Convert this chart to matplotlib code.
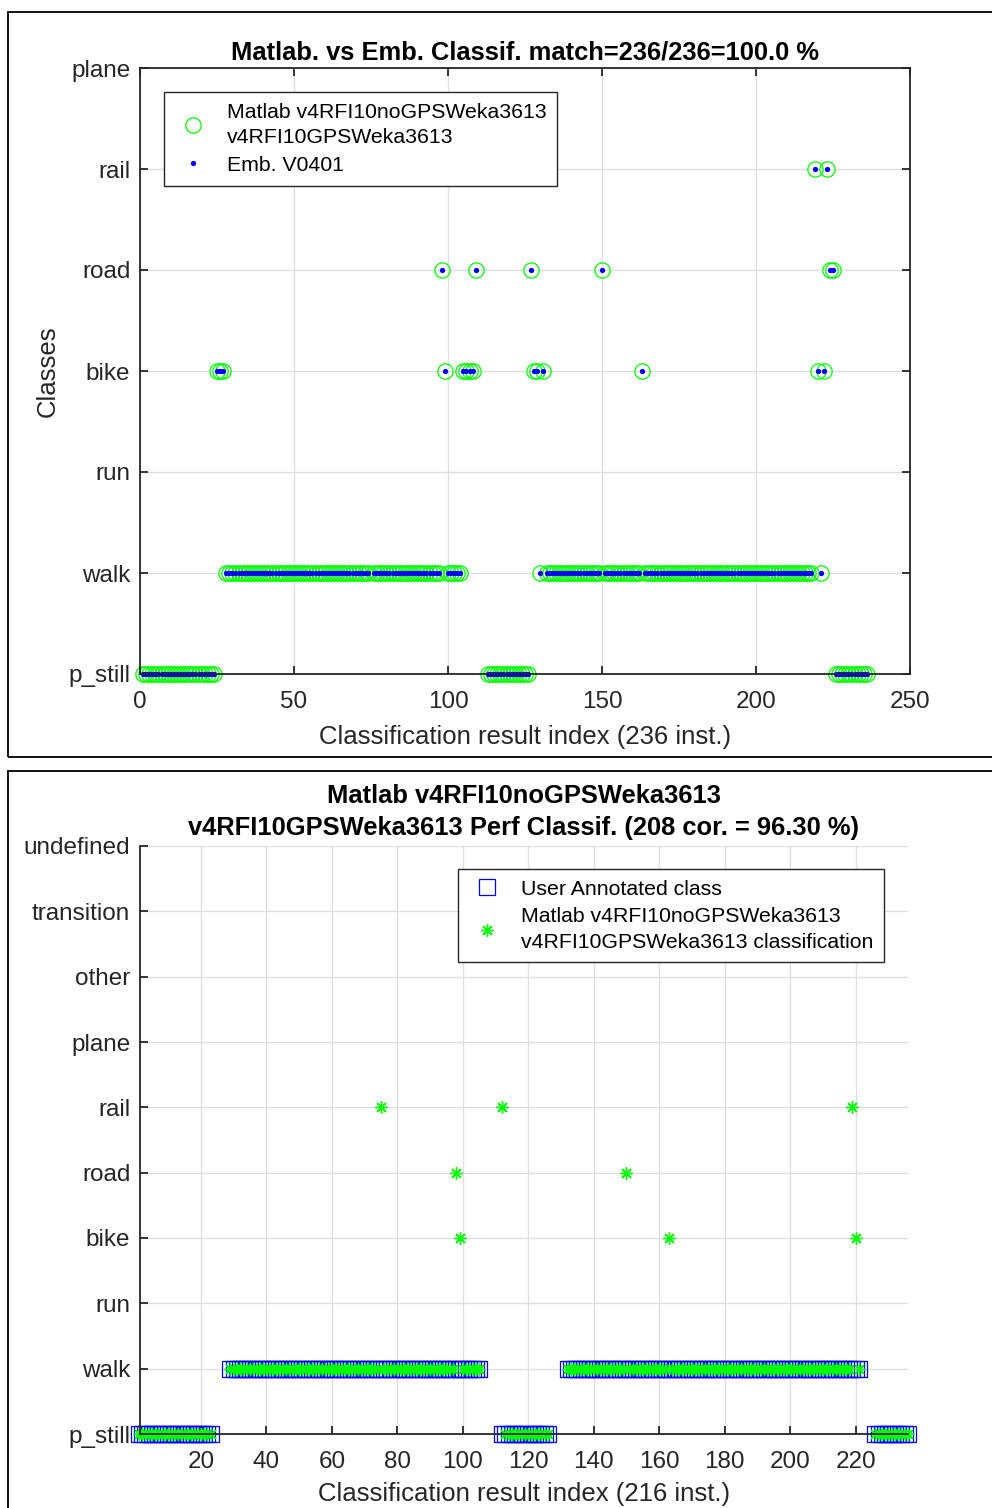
import numpy as np
import matplotlib
matplotlib.use("Agg")
from matplotlib import pyplot as plt
from matplotlib.patches import Rectangle

plt.rcParams['font.family'] = ['Liberation Sans', 'DejaVu Sans']

# class names (y axis)
top_classes = ['p_still', 'walk', 'run', 'bike', 'road', 'rail', 'plane']
bottom_classes = ['p_still', 'walk', 'run', 'bike', 'road', 'rail', 'plane',
                  'other', 'transition', 'undefined']

# top panel: runs of Matlab classification (Emb. is identical, 100 % match)
top_run_start = [1, 25, 28, 76, 98, 99, 100, 105, 109, 113, 127, 128, 130, 131,
                 132, 150, 151, 163, 164, 219, 220, 221, 222, 223, 224, 226]
top_run_end = [24, 27, 74, 97, 98, 99, 104, 108, 109, 126, 127, 129, 130, 131,
               149, 150, 162, 163, 218, 219, 220, 221, 222, 223, 225, 236]
top_run_class = ['p_still', 'bike', 'walk', 'walk', 'road', 'bike', 'walk', 'bike',
                 'road', 'p_still', 'road', 'bike', 'walk', 'bike', 'walk', 'road',
                 'walk', 'bike', 'walk', 'rail', 'bike', 'walk', 'bike', 'rail',
                 'road', 'p_still']

# bottom panel: user annotated runs
user_run_start = [1, 29, 112, 132, 226]
user_run_end = [23, 105, 126, 221, 236]
user_run_class = ['p_still', 'walk', 'p_still', 'walk', 'p_still']

# bottom panel: instances where Matlab classification differs from annotation
err_index = [75, 98, 99, 112, 150, 163, 219, 220]
err_class = ['rail', 'road', 'bike', 'rail', 'road', 'bike', 'rail', 'bike']


def expand(starts, ends, classes, names):
    idx, val = [], []
    for s, e, c in zip(starts, ends, classes):
        for i in range(s, e + 1):
            idx.append(i)
            val.append(names.index(c) + 1)
    return np.array(idx), np.array(val, dtype=float)


top_x, top_y = expand(top_run_start, top_run_end, top_run_class, top_classes)
emb_y = top_y.copy()

user_x, user_y = expand(user_run_start, user_run_end, user_run_class, bottom_classes)
matlab_y = user_y.copy()
for i, c in zip(err_index, err_class):
    matlab_y[user_x == i] = bottom_classes.index(c) + 1

GREEN = (0, 1, 0)
BLUE = (0, 0, 1)
AX_COL = '#262626'
GRID_COL = '#dedede'

fig = plt.figure(figsize=(9.92, 15.08), dpi=100)

# panel frames
fig.add_artist(Rectangle((8 / 992, 1 - 757 / 1508), 1.0, (757 - 12) / 1508,
                         transform=fig.transFigure, fill=False, ec='black', lw=1.3))
fig.add_artist(Rectangle((8 / 992, -0.01), 1.0, 1 - 771 / 1508 + 0.01,
                         transform=fig.transFigure, fill=False, ec='black', lw=1.3))


def style(ax, box):
    for side, sp in ax.spines.items():
        sp.set_color(AX_COL)
        sp.set_linewidth(1.3)
        if not box and side in ('top', 'right'):
            sp.set_visible(False)
    ax.tick_params(direction='in', length=6, width=1.3, colors=AX_COL,
                   labelsize=17.5, pad=7, top=box, right=box)
    ax.tick_params(axis='x', pad=12)
    ax.grid(True, color=GRID_COL, lw=0.9)
    ax.set_axisbelow(True)


def style_legend(leg):
    leg.get_frame().set_linewidth(1.0)
    for t in leg.get_texts():
        t.set_linespacing(1.45)


LEG_KW = dict(loc='upper left', fontsize=15.3, numpoints=1, handlelength=1.7,
              handletextpad=0.75, borderpad=0.5, borderaxespad=0, labelspacing=0.4,
              fancybox=False, framealpha=1, edgecolor=AX_COL)

# ---- top panel
ax1 = fig.add_axes([140 / 992, 1 - 674 / 1508, 770 / 992, 606 / 1508])
style(ax1, True)
ax1.plot(top_x, top_y, 'o', mfc='none', mec=GREEN, ms=11, mew=0.9, clip_on=False,
         label='Matlab v4RFI10noGPSWeka3613\nv4RFI10GPSWeka3613')
ax1.plot(top_x, emb_y, 'o', color=BLUE, ms=3.8, mew=0, clip_on=False,
         label='Emb. V0401')
ax1.set_xlim(0, 250)
ax1.set_ylim(1, len(top_classes))
ax1.set_xticks(np.arange(0, 251, 50))
ax1.set_yticks(np.arange(1, len(top_classes) + 1))
ax1.set_yticklabels(top_classes)
ax1.set_xlabel('Classification result index (236 inst.)', fontsize=18.5, color=AX_COL, labelpad=9)
ax1.set_ylabel('Classes', fontsize=18.5, color=AX_COL, labelpad=6)
ax1.set_title('Matlab. vs Emb. Classif. match=236/236=100.0 %', fontsize=18.4,
              fontweight='bold', pad=6)
leg = ax1.legend(bbox_to_anchor=(24 / 770, (674 - 92) / 606), **LEG_KW)
style_legend(leg)

# ---- bottom panel
ax2 = fig.add_axes([140 / 992, 1 - 1434 / 1508, 768 / 992, 588 / 1508])
style(ax2, False)
ax2.plot(user_x, user_y, 's', mfc='none', mec=BLUE, ms=11, mew=0.9, clip_on=False,
         label='User Annotated class')
ax2.plot(user_x, matlab_y, ls='none', marker=(8, 2, 0), color=GREEN, ms=9, mew=1.0,
         clip_on=False,
         label='Matlab v4RFI10noGPSWeka3613\nv4RFI10GPSWeka3613 classification')
ax2.set_xlim(1.4, 236)
ax2.set_ylim(1, len(bottom_classes))
ax2.set_xticks(np.arange(20, 221, 20))
ax2.set_yticks(np.arange(1, len(bottom_classes) + 1))
ax2.set_yticklabels(bottom_classes)
ax2.set_xlabel('Classification result index (216 inst.)', fontsize=18.5, color=AX_COL, labelpad=7)
ax2.set_title('Matlab v4RFI10noGPSWeka3613\nv4RFI10GPSWeka3613 Perf Classif. (208 cor. = 96.30 %)',
              fontsize=18.4, fontweight='bold', pad=8, linespacing=1.4)
leg2 = ax2.legend(bbox_to_anchor=((458 - 140) / 768, (1434 - 869) / 588), **LEG_KW)
style_legend(leg2)

fig.savefig('out.png', dpi=100)
